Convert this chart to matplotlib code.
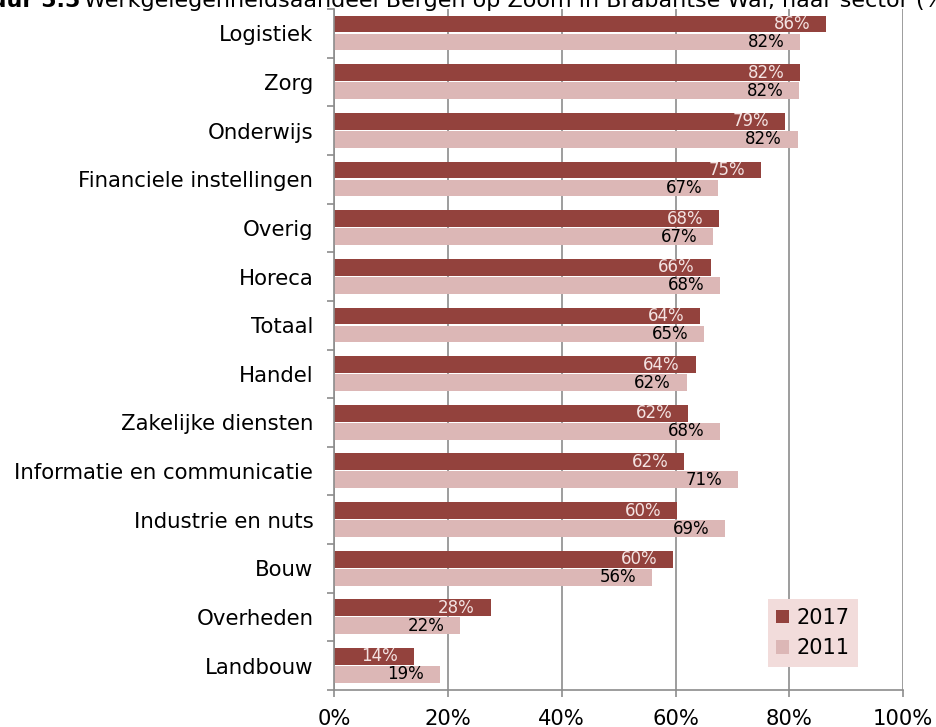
import numpy as np
import matplotlib.pyplot as plt

# sectoren van boven naar beneden
sectoren = ['Logistiek', 'Zorg', 'Onderwijs', 'Financiele instellingen', 'Overig',
            'Horeca', 'Totaal', 'Handel', 'Zakelijke diensten',
            'Informatie en communicatie', 'Industrie en nuts', 'Bouw',
            'Overheden', 'Landbouw']
waarden_2017 = [86.5, 81.9, 79.3, 75.0, 67.7, 66.2, 64.3, 63.5, 62.2, 61.5, 60.3, 59.6, 27.5, 14.0]
waarden_2011 = [81.9, 81.7, 81.5, 67.5, 66.6, 67.8, 65.0, 62.0, 67.8, 71.0, 68.7, 55.9, 22.2, 18.6]
labels_2017 = ['86%', '82%', '79%', '75%', '68%', '66%', '64%', '64%', '62%', '62%', '60%', '60%', '28%', '14%']
labels_2011 = ['82%', '82%', '82%', '67%', '67%', '68%', '65%', '62%', '68%', '71%', '69%', '56%', '22%', '19%']
xticks = [0, 20, 40, 60, 80, 100]

kleur_2017 = '#93423d'
kleur_2011 = '#dcb7b6'
grijs = '#8c8c8c'

fig = plt.figure(figsize=(9.36, 7.27), dpi=100)
ax = fig.add_axes([0.357, 0.0509, 0.608, 0.9367])

n = len(sectoren)
y = np.arange(n)[::-1]
h = 0.345

b1 = ax.barh(y + 0.19, waarden_2017, height=h, color=kleur_2017, label='2017', zorder=2)
b2 = ax.barh(y - 0.18, waarden_2011, height=h, color=kleur_2011, label='2011', zorder=2)

for bar, lab in zip(b1, labels_2017):
    ax.text(bar.get_width() - 2.8, bar.get_y() + bar.get_height() / 2, lab,
            ha='right', va='center', color='#f4e3e2', fontsize=12, zorder=3)
for bar, lab in zip(b2, labels_2011):
    ax.text(bar.get_width() - 2.8, bar.get_y() + bar.get_height() / 2, lab,
            ha='right', va='center', color='black', fontsize=12, zorder=3)

ax.set_xlim(0, 100)
ax.set_ylim(-0.5, n - 0.5)
ax.set_xticks(xticks)
ax.set_xticklabels([f'{t}%' for t in xticks], fontsize=15.2)
ax.set_yticks(y)
ax.set_yticklabels(sectoren, fontsize=15.3)
ax.set_yticks(np.arange(n + 1) - 0.5, minor=True)
ax.tick_params(axis='y', which='major', length=0, pad=15)
ax.tick_params(axis='y', which='minor', length=5, color=grijs, width=1.2)
ax.tick_params(axis='x', length=5, color=grijs, width=1.2, pad=8.5)

ax.grid(axis='x', color=grijs, linewidth=1.2, zorder=0)
ax.set_axisbelow(True)
for s in ['top', 'right']:
    ax.spines[s].set_visible(False)
for s in ['left', 'bottom']:
    ax.spines[s].set_color(grijs)
    ax.spines[s].set_linewidth(1.2)

leg = ax.legend(loc='lower right', bbox_to_anchor=(0.921, 0.034), fontsize=15,
                frameon=True, fancybox=False, handlelength=0.62, handleheight=0.62,
                handletextpad=0.35, borderpad=0.42, labelspacing=0.5, borderaxespad=0)
leg.get_frame().set_facecolor('#f2dcdb')
leg.get_frame().set_edgecolor('none')
leg.get_frame().set_alpha(1)

# afgesneden titel bovenaan
fig.text(80 / 936, 0.998, 'Figuur 5.5', fontsize=16, fontweight='bold', va='center', ha='right')
fig.text(84 / 936, 0.998, 'Werkgelegenheidsaandeel Bergen op Zoom in Brabantse Wal, naar sector (%)',
         fontsize=16, va='center', ha='left')

fig.savefig('out.png', dpi=100)
